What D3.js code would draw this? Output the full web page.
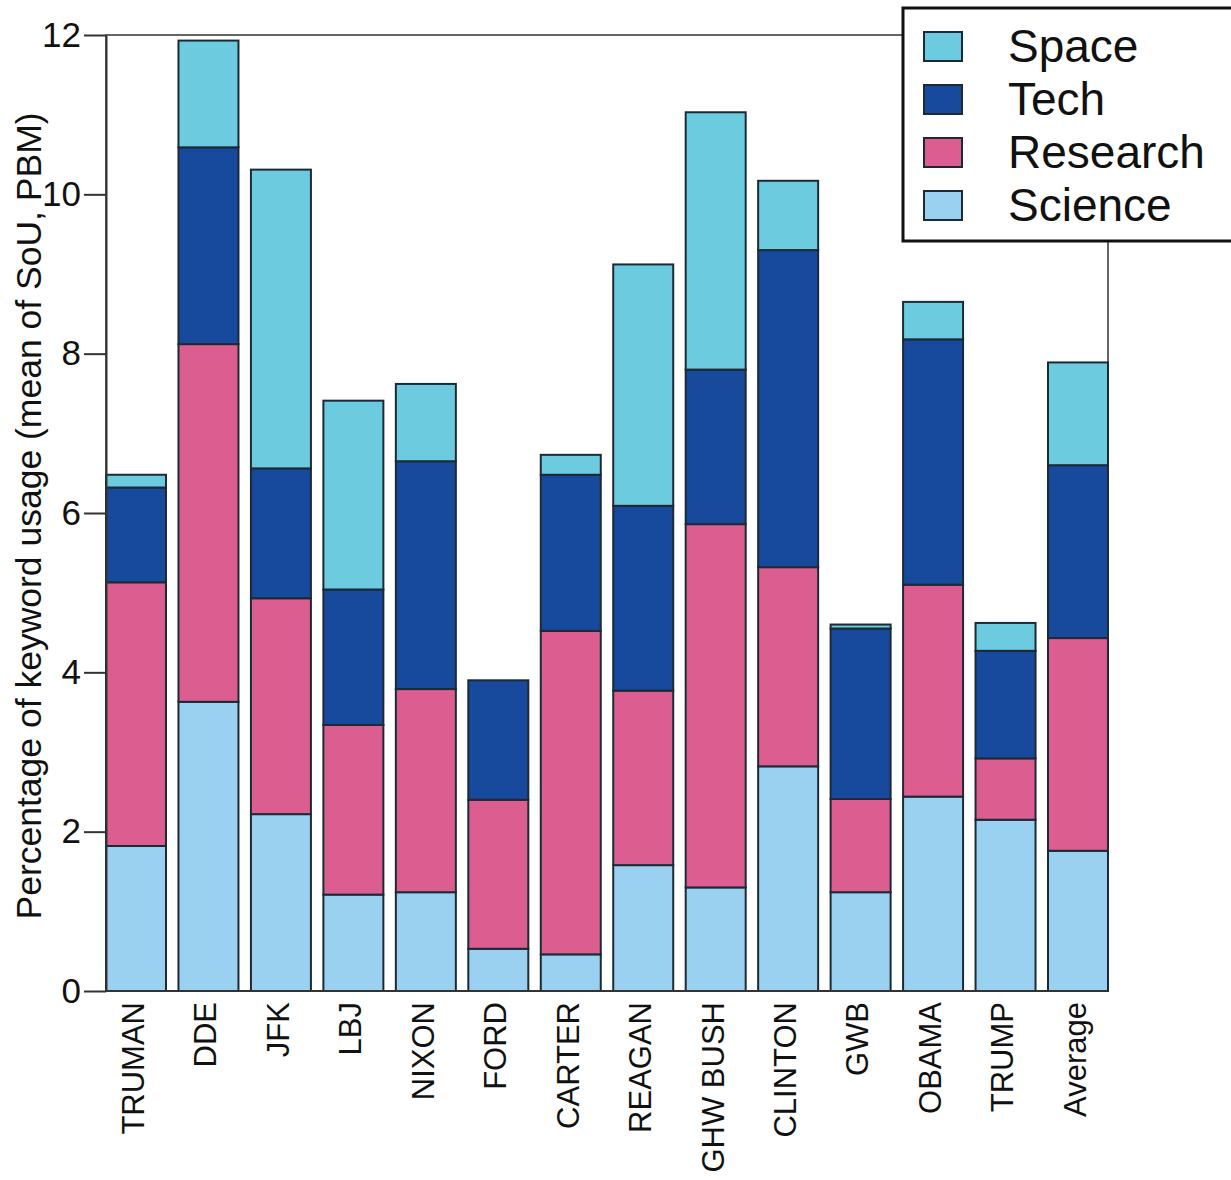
<!DOCTYPE html>
<html>
<head>
<meta charset="utf-8">
<script src="https://cdn.jsdelivr.net/npm/d3@7"></script>
<style>
  body { margin: 0; background: #fff; }
  svg { display: block; font-family: "Liberation Sans", Arial, sans-serif; }
</style>
</head>
<body>
<div id="chart"></div>
<script>
// presidents on the x axis
const presidents = ["TRUMAN", "DDE", "JFK", "LBJ", "NIXON", "FORD", "CARTER",
  "REAGAN", "GHW BUSH", "CLINTON", "GWB", "OBAMA", "TRUMP", "Average"];

// keyword usage per category (stack order bottom -> top)
const science  = [1.82, 3.63, 2.22, 1.21, 1.24, 0.53, 0.46, 1.58, 1.30, 2.82, 1.24, 2.44, 2.15, 1.76];
const research = [3.31, 4.49, 2.71, 2.13, 2.55, 1.87, 4.06, 2.19, 4.56, 2.50, 1.17, 2.66, 0.77, 2.67];
const tech     = [1.19, 2.47, 1.63, 1.70, 2.86, 1.50, 1.96, 2.32, 1.94, 3.98, 2.14, 3.08, 1.35, 2.17];
const space    = [0.16, 1.34, 3.75, 2.37, 0.97, 0.00, 0.25, 3.03, 3.23, 0.87, 0.05, 0.47, 0.35, 1.29];

const seriesNames = ["Science", "Research", "Tech", "Space"];
const legendOrder = ["Space", "Tech", "Research", "Science"];
const yTicks = [0, 2, 4, 6, 8, 10, 12];

const colors = {
  Science: "#9ad1f0",
  Research: "#dc5e91",
  Tech: "#174a9c",
  Space: "#6ccbdf"
};

const width = 1231, height = 1180;
const margin = { top: 35, right: 123, bottom: 189, left: 106 };

// build rows for d3.stack
const rows = presidents.map((p, i) => ({
  name: p,
  Science: science[i],
  Research: research[i],
  Tech: tech[i],
  Space: space[i]
}));

const svg = d3.select("#chart").append("svg")
  .attr("width", width)
  .attr("height", height);

const x = d3.scaleBand()
  .domain(presidents)
  .range([margin.left, width - margin.right])
  .paddingInner(0.172)
  .paddingOuter(0);

const y = d3.scaleLinear()
  .domain([0, 12])
  .range([height - margin.bottom, margin.top]);

// frame (top + right)
svg.append("rect")
  .attr("x", margin.left)
  .attr("y", margin.top)
  .attr("width", width - margin.right - margin.left)
  .attr("height", height - margin.bottom - margin.top)
  .attr("fill", "none")
  .attr("stroke", "#333")
  .attr("stroke-width", 1.5);

// stacked bars
const stacked = d3.stack().keys(seriesNames)(rows);

svg.append("g")
  .selectAll("g")
  .data(stacked)
  .join("g")
  .attr("fill", d => colors[d.key])
  .selectAll("rect")
  .data(d => d.filter(s => s[1] - s[0] > 0))
  .join("rect")
  .attr("x", d => x(d.data.name))
  .attr("y", d => y(d[1]))
  .attr("width", x.bandwidth())
  .attr("height", d => y(d[0]) - y(d[1]))
  .attr("stroke", "#1c2a35")
  .attr("stroke-width", 2);

// y axis
const yAxis = svg.append("g")
  .attr("transform", `translate(${margin.left},0)`)
  .call(d3.axisLeft(y).tickValues(yTicks).tickSize(22).tickPadding(3).tickSizeOuter(0));
yAxis.attr("font-size", null).attr("font-family", null);
yAxis.select(".domain").attr("stroke", "#333").attr("stroke-width", 2);
yAxis.selectAll(".tick line").attr("stroke", "#333").attr("stroke-width", 2);
yAxis.selectAll(".tick text")
  .style("font-size", "35px")
  .attr("fill", "#111");

// x baseline
svg.append("line")
  .attr("x1", margin.left)
  .attr("x2", width - margin.right)
  .attr("y1", y(0))
  .attr("y2", y(0))
  .attr("stroke", "#333")
  .attr("stroke-width", 2);

// x labels, rotated
svg.append("g")
  .selectAll("text")
  .data(presidents)
  .join("text")
  .attr("transform", d => `translate(${x(d) + x.bandwidth() / 2 - 3},${y(0) + 11}) rotate(-90)`)
  .attr("text-anchor", "end")
  .attr("dy", "0.35em")
  .attr("font-size", 31)
  .attr("fill", "#111")
  .text(d => d);

// y title
svg.append("text")
  .attr("transform", `translate(41,516) rotate(-90)`)
  .attr("text-anchor", "middle")
  .attr("font-size", 35.5)
  .attr("fill", "#111")
  .text("Percentage of keyword usage (mean of SoU, PBM)");

// legend
const legend = svg.append("g");
legend.append("rect")
  .attr("x", 903)
  .attr("y", 8)
  .attr("width", 340)
  .attr("height", 233)
  .attr("fill", "#fff")
  .attr("stroke", "#111")
  .attr("stroke-width", 3);

const items = legend.selectAll("g.item")
  .data(legendOrder)
  .join("g")
  .attr("class", "item")
  .attr("transform", (d, i) => `translate(924,${32 + i * 53})`);

items.append("rect")
  .attr("width", 38)
  .attr("height", 29)
  .attr("fill", d => colors[d])
  .attr("stroke", "#1c2a35")
  .attr("stroke-width", 2);

items.append("text")
  .attr("x", 84)
  .attr("y", 30)
  .attr("font-size", 46)
  .attr("fill", "#111")
  .text(d => d);
</script>
</body>
</html>
